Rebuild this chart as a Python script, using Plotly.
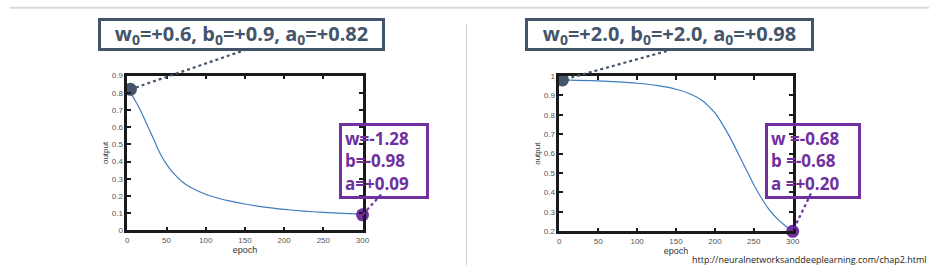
import plotly.graph_objects as go

W, H = 944, 274

# ---------------- data ----------------
left_epochs = [0, 5, 10, 15, 20, 25, 30, 35, 40, 45, 50, 55, 60, 70, 80, 90, 100,
               115, 130, 150, 175, 200, 225, 250, 275, 300]
left_output = [0.82, 0.792, 0.755, 0.714, 0.667, 0.616, 0.566, 0.516, 0.464, 0.421,
               0.385, 0.353, 0.327, 0.283, 0.252, 0.229, 0.21, 0.188, 0.171, 0.153,
               0.135, 0.122, 0.112, 0.104, 0.098, 0.094]
right_epochs = [0, 25, 50, 75, 100, 125, 150, 170, 185, 200, 210, 220, 230, 240,
                250, 260, 270, 280, 290, 300]
right_output = [0.98, 0.978, 0.975, 0.97, 0.963, 0.952, 0.932, 0.905, 0.87, 0.81,
                0.75, 0.68, 0.60, 0.52, 0.44, 0.37, 0.31, 0.265, 0.23, 0.20]

start_points = [(4, 0.82), (4, 0.98)]
end_points = [(300, 0.09), (300, 0.20)]

start_labels = ["w<sub>0</sub>=+0.6, b<sub>0</sub>=+0.9, a<sub>0</sub>=+0.82",
                "w<sub>0</sub>=+2.0, b<sub>0</sub>=+2.0, a<sub>0</sub>=+0.98"]
end_labels = ["w=-1.28<br>b=-0.98<br>a=+0.09",
              "w =-0.68<br>b =-0.68<br>a =+0.20"]

left_yticks = [0, 0.1, 0.2, 0.3, 0.4, 0.5, 0.6, 0.7, 0.8, 0.9]
right_yticks = [0.2, 0.3, 0.4, 0.5, 0.6, 0.7, 0.8, 0.9, 1]
xticks = [0, 50, 100, 150, 200, 250, 300]
url_text = "http://neuralnetworksanddeeplearning.com/chap2.html"

# ---------------- styling ----------------
SLATE = "#44546A"
PURPLE = "#7030A0"
CURVE = "#3d7dbf"

def px(x):
    return x / W

def py(y):
    return 1 - y / H

panels = [
    dict(xd=[px(126.5), px(364)], yd=[py(234), py(74)], yr=[0, 0.9], yt=left_yticks,
         ex=left_epochs, ey=left_output,
         gbox=(241.5, 32, 277), gconn=(247, 47),
         pbox=(340, 123, 78), pconn=(382.7, 197)),
    dict(xd=[px(562.7), px(798.3)], yd=[py(235), py(74.5)], yr=[0.2, 1.0], yt=right_yticks,
         ex=right_epochs, ey=right_output,
         gbox=(673.5, 32, 279), gconn=(677, 47),
         pbox=(770, 123, 84), pconn=(816.7, 196)),
]

fig = go.Figure()
shapes = []
annotations = []
layout_axes = {}

for i, p in enumerate(panels):
    n = i + 1
    xa = "x" if n == 1 else f"x{n}"
    ya = "y" if n == 1 else f"y{n}"
    fig.add_trace(go.Scatter(x=p["ex"], y=p["ey"], mode="lines",
                             line=dict(color=CURVE, width=1.2, shape="spline", smoothing=0.5),
                             xaxis=xa, yaxis=ya, showlegend=False, hoverinfo="skip"))
    sx, sy = start_points[i]
    exx, eyy = end_points[i]
    fig.add_trace(go.Scatter(x=[sx], y=[sy], mode="markers",
                             marker=dict(color=SLATE, size=13), cliponaxis=False,
                             xaxis=xa, yaxis=ya, showlegend=False, hoverinfo="skip"))
    fig.add_trace(go.Scatter(x=[exx], y=[eyy], mode="markers",
                             marker=dict(color=PURPLE, size=13), cliponaxis=False,
                             xaxis=xa, yaxis=ya, showlegend=False, hoverinfo="skip"))

    common = dict(showline=True, mirror="allticks", linecolor="#1a1a1a", linewidth=2.5,
                  ticks="inside", ticklen=4, tickwidth=2, tickcolor="#1a1a1a",
                  showgrid=False, zeroline=False,
                  tickfont=dict(family="Liberation Sans, Arial", size=8, color="#555555"))
    layout_axes["xaxis" if n == 1 else f"xaxis{n}"] = dict(
        domain=p["xd"], range=[0, 300], tickvals=xticks, anchor=ya,
        title=dict(text="epoch", font=dict(family="Liberation Sans, Arial", size=9, color="#333333"),
                   standoff=4),
        **common)
    layout_axes["yaxis" if n == 1 else f"yaxis{n}"] = dict(
        domain=p["yd"], range=p["yr"], tickvals=p["yt"], anchor=xa,
        title=dict(text="output", font=dict(family="Liberation Sans, Arial", size=8, color="#333333"),
                   standoff=3),
        **common)

    # map data point to paper fraction through the panel's axis domains
    def to_paper(xv, yv, p=p):
        fx = p["xd"][0] + (xv - 0) / 300 * (p["xd"][1] - p["xd"][0])
        fy = p["yd"][0] + (yv - p["yr"][0]) / (p["yr"][1] - p["yr"][0]) * (p["yd"][1] - p["yd"][0])
        return fx, fy

    # dotted connectors
    fx, fy = to_paper(sx, sy)
    shapes.append(dict(type="line", xref="paper", yref="paper",
                       x0=px(p["gconn"][0]), y0=py(p["gconn"][1]), x1=fx, y1=fy,
                       line=dict(color=SLATE, width=2.2, dash="dot")))
    fx, fy = to_paper(exx, eyy)
    shapes.append(dict(type="line", xref="paper", yref="paper",
                       x0=px(p["pconn"][0]), y0=py(p["pconn"][1]), x1=fx, y1=fy,
                       line=dict(color=PURPLE, width=2.2, dash="dot")))

    gx, gy, gw = p["gbox"]
    annotations.append(dict(xref="paper", yref="paper", x=px(gx), y=py(gy),
                            xanchor="center", yanchor="middle", showarrow=False,
                            text="<b>" + start_labels[i] + "</b>",
                            font=dict(family="Open Sans", size=20, color=SLATE),
                            width=gw, height=23, borderpad=2, borderwidth=3,
                            bordercolor=SLATE, bgcolor="white", align="center"))
    bx, by, bw = p["pbox"]
    annotations.append(dict(xref="paper", yref="paper", x=px(bx), y=py(by),
                            xanchor="left", yanchor="top", showarrow=False,
                            text="<b>" + end_labels[i] + "</b>",
                            font=dict(family="Open Sans", size=17, color=PURPLE),
                            width=bw, height=64, borderpad=3, borderwidth=3,
                            bordercolor=PURPLE, bgcolor="rgba(0,0,0,0)", align="left"))

# decorations
shapes.append(dict(type="line", xref="paper", yref="paper", x0=px(469), x1=px(469),
                   y0=py(20), y1=py(270), line=dict(color="#cfcfcf", width=1)))
shapes.append(dict(type="line", xref="paper", yref="paper", x0=px(8), x1=px(936),
                   y0=py(4), y1=py(4), line=dict(color="#dadada", width=2)))

annotations.append(dict(xref="paper", yref="paper", x=px(936), y=py(264),
                        xanchor="right", yanchor="middle", showarrow=False,
                        text=url_text,
                        font=dict(family="Open Sans", size=9, color="#222222")))

fig.update_layout(width=W, height=H, margin=dict(l=0, r=0, t=0, b=0),
                  paper_bgcolor="white", plot_bgcolor="white",
                  shapes=shapes, annotations=annotations, showlegend=False,
                  **layout_axes)

fig.write_html("out.html")
